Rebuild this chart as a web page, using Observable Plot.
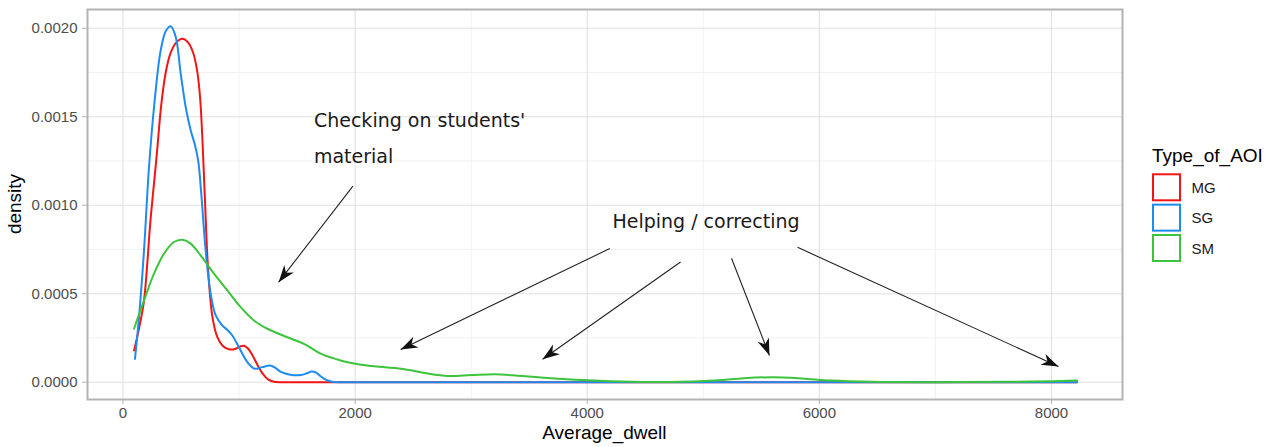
<!DOCTYPE html>
<html><head><meta charset="utf-8">
<script src="https://cdn.jsdelivr.net/npm/d3@7"></script>
<script src="https://cdn.jsdelivr.net/npm/@observablehq/plot@0.6"></script>
<style>
body{margin:0;background:#fff;}
#wrap{position:relative;width:1274px;height:447px;background:#fff;}
#wrap svg{position:absolute;left:0;top:0;}
</style></head><body><div id="wrap"></div>
<script>
// ---- data ----
const groups = ["MG","SG","SM"];
const colors = ["#F21515","#1E8BF0","#3CC43C"];
const legendTitle = "Type_of_AOI";
const xLabel = "Average_dwell";
const yLabel = "density";

const mg = [[95,0.000179],[140,0.00031],[181,0.000462],[239,0.000933],[290,0.00128],[330,0.00157],[368,0.00175],[410,0.00186],[460,0.00192],[512,0.00194],[560,0.00192],[605,0.00186],[641,0.00175],[665,0.00160],[685,0.00136],[706,0.00103],[732,0.00065],[770,0.00037],[813,0.000254],[860,0.000205],[915,0.000186],[965,0.000188],[1010,0.000202],[1042,0.000206],[1075,0.000192],[1115,0.000152],[1158,0.000098],[1205,0.000047],[1250,0.000016],[1300,0.000003],[1360,0],[1500,0],[2000,0],[4000,0],[6000,0],[8220,0]];
const sg = [[103,0.000132],[138,0.000368],[181,0.000745],[224,0.001216],[273,0.001593],[325,0.001876],[370,0.001985],[411,0.002011],[454,0.001951],[497,0.001744],[540,0.001555],[583,0.001423],[620,0.00134],[648,0.00125],[675,0.00106],[712,0.000745],[755,0.0005],[799,0.000377],[856,0.00032],[900,0.000295],[942,0.000264],[999,0.000198],[1072,0.000113],[1134,0.000076],[1200,0.000085],[1265,0.000094],[1310,0.000082],[1360,0.000058],[1430,0.000044],[1531,0.00004],[1590,0.000052],[1623,0.00006],[1660,0.000055],[1700,0.000035],[1746,0.000014],[1800,0.000003],[1870,0],[2000,0],[3000,0],[5000,0],[7000,0],[8220,0]];
const sm = [[95,0.000302],[181,0.000462],[267,0.000613],[353,0.000726],[439,0.000792],[512,0.000805],[583,0.000783],[669,0.000716],[784,0.000613],[899,0.000519],[1014,0.000424],[1128,0.000349],[1244,0.000302],[1416,0.000254],[1559,0.000217],[1703,0.000161],[1875,0.000123],[2105,0.000094],[2400,0.000076],[2600,0.000052],[2800,0.000035],[3000,0.00004],[3200,0.000045],[3400,0.000037],[3600,0.000026],[3900,0.000014],[4300,0.000004],[4700,0.000001],[5100,0.000009],[5350,0.000022],[5600,0.000028],[5850,0.000021],[6100,0.000009],[6450,0.000002],[7000,0],[7600,0.000002],[8000,0.000005],[8220,0.000009]];

const xMajor = [0,2000,4000,6000,8000];
const xMinor = [1000,3000,5000,7000];
const yMajor = [0,0.0005,0.001,0.0015,0.002];
const yMinor = [0.00025,0.00075,0.00125,0.00175];

// annotations (data coordinates)
const leftNoteText = ["Checking on students'","material"];
const leftNoteX = [1645,1645];
const leftNoteY = [0.001442,0.001241];
const midNoteText = ["Helping / correcting"];
const midNoteX = [5023];
const midNoteY = [0.000869];
const arrowX1 = [1981,4194,4804,5243,5812];
const arrowY1 = [0.001108,0.000755,0.000679,0.0007,0.000762];
const arrowX2 = [1341,2392,3615,5570,8060];
const arrowY2 = [0.000565,0.000185,0.00013,0.000151,0.0000888];

// ---- build ----
const series = {MG: mg, SG: sg, SM: sm};
const rows = groups.flatMap(g => series[g].map(([x, y]) => ({g, x, y})));
const leftNotes = leftNoteText.map((t, i) => ({text: t, x: leftNoteX[i], y: leftNoteY[i]}));
const midNotes = midNoteText.map((t, i) => ({text: t, x: midNoteX[i], y: midNoteY[i]}));
const arrows = arrowX1.map((_, i) => ({x1: arrowX1[i], y1: arrowY1[i], x2: arrowX2[i], y2: arrowY2[i]}));

function head(color, context) {
  const doc = (context && context.document) || document;
  const ns = "http://www.w3.org/2000/svg";
  const m = doc.createElementNS(ns, "marker");
  m.setAttribute("viewBox", "-18 -8 19 16");
  m.setAttribute("markerWidth", "19");
  m.setAttribute("markerHeight", "16");
  m.setAttribute("markerUnits", "userSpaceOnUse");
  m.setAttribute("refX", "0");
  m.setAttribute("refY", "0");
  m.setAttribute("orient", "auto");
  const p = doc.createElementNS(ns, "path");
  p.setAttribute("d", "M0,0L-17,-6L-12,0L-17,6Z");
  p.setAttribute("fill", "#111");
  p.setAttribute("stroke", "none");
  m.appendChild(p);
  return m;
}

const sansA = "'Liberation Sans', Arial, sans-serif";
const noteFont = "'DejaVu Sans', sans-serif";
const plot = Plot.plot({
  width: 1274, height: 447,
  marginLeft: 87, marginRight: 152, marginTop: 9, marginBottom: 48,
  x: {domain: [-306, 8612]},
  y: {domain: [-0.0000978, 0.0021057]},
  color: {domain: groups, range: colors},
  style: {fontFamily: sansA, background: "#fff"},
  marks: [
    Plot.ruleX(xMinor, {stroke: "#efefef", strokeWidth: 0.8}),
    Plot.ruleY(yMinor, {stroke: "#efefef", strokeWidth: 0.8}),
    Plot.ruleX(xMajor, {stroke: "#e0e0e0", strokeWidth: 1.1}),
    Plot.ruleY(yMajor, {stroke: "#e0e0e0", strokeWidth: 1.1}),
    Plot.line(rows, {x: "x", y: "y", z: "g", stroke: "g", strokeWidth: 2, curve: "catmull-rom"}),
    Plot.link(arrows, {x1: "x1", y1: "y1", x2: "x2", y2: "y2", stroke: "#222", strokeWidth: 1.1, markerEnd: head}),
    Plot.text(leftNotes, {x: "x", y: "y", text: "text", textAnchor: "start", lineAnchor: "bottom", fontSize: 19, fontFamily: noteFont, fill: "#1a1a1a"}),
    Plot.text(midNotes, {x: "x", y: "y", text: "text", textAnchor: "middle", lineAnchor: "bottom", fontSize: 19, fontFamily: noteFont, fill: "#1a1a1a"}),
    Plot.frame({stroke: "#b3b3b3", strokeWidth: 2}),
    Plot.axisX({ticks: xMajor, tickFormat: d3.format("d"), tickSize: 5, tickPadding: 3, fontSize: 15, stroke: "#b3b3b3", fill: "#4d4d4d", label: null}),
    Plot.axisY({ticks: yMajor, tickFormat: d3.format(".4f"), tickSize: 5, tickPadding: 5, fontSize: 15, stroke: "#b3b3b3", fill: "#4d4d4d", label: null})
  ]
});
document.getElementById("wrap").appendChild(plot);

const svg = d3.select(plot);
svg.append("text").attr("x", 604.4).attr("y", 439).attr("text-anchor", "middle")
  .attr("font-size", 19).attr("font-family", sansA).attr("fill", "#000").text(xLabel);
svg.append("text").attr("transform", "translate(21,204) rotate(-90)").attr("text-anchor", "middle")
  .attr("font-size", 19).attr("font-family", sansA).attr("fill", "#000").text(yLabel);

// legend (overlay on the right)
const leg = d3.select("#wrap").append("svg").attr("width", 1274).attr("height", 447)
  .style("pointer-events", "none").attr("font-family", sansA);
leg.append("text").attr("x", 1152).attr("y", 161.7).attr("font-size", 19).attr("fill", "#000").text(legendTitle);
groups.forEach((g, i) => {
  const y0 = 174.3 + i * 30.35;
  leg.append("rect").attr("x", 1153).attr("y", y0).attr("width", 27).attr("height", 26)
    .attr("fill", "#fff").attr("stroke", colors[i]).attr("stroke-width", 2);
  leg.append("text").attr("x", 1191.5).attr("y", y0 + 13.5).attr("dy", "0.35em")
    .attr("font-size", 15).attr("fill", "#1a1a1a").text(g);
});
</script>
</body></html>
